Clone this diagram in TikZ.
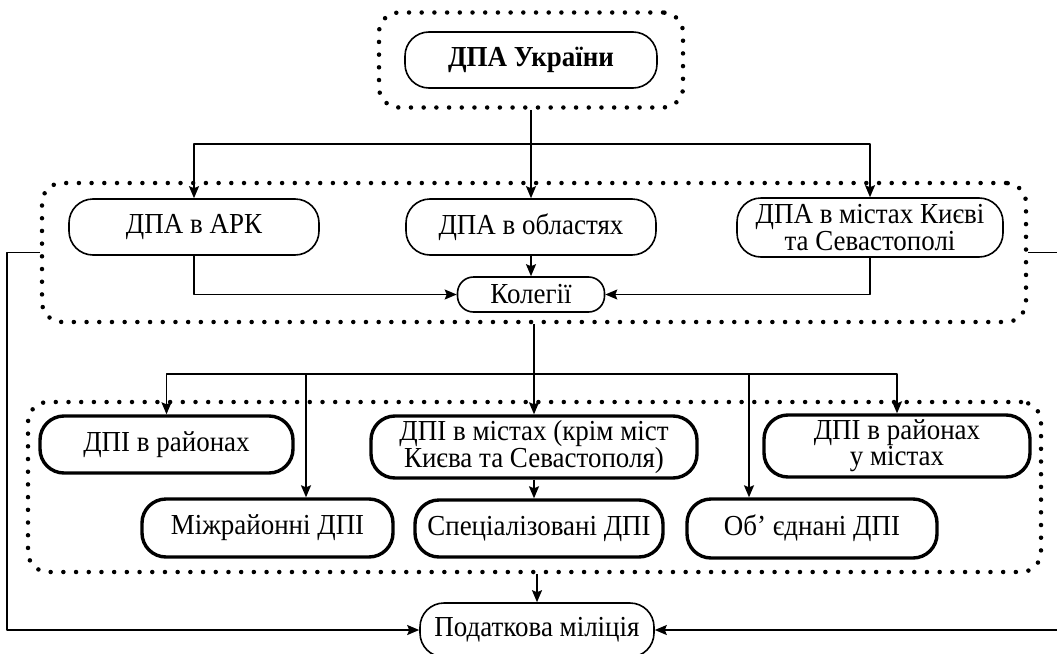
\documentclass[tikz,border=0pt]{standalone}
\usepackage{fontspec}
\setmainfont[FakeStretch=0.93]{Liberation Serif}
\usetikzlibrary{arrows.meta}
\begin{document}
\begin{tikzpicture}[x=1pt,y=-1pt,line join=round,>={Stealth[length=12pt,width=10pt,inset=2pt]},line width=1.6pt]
			\tikzset{every node/.style={font=\fontsize{29}{22}\selectfont},
				box/.style={draw,line width=1.6pt,rounded corners=24pt,inner sep=0pt,align=center,minimum width=#1,minimum height=56pt},
				dpibox/.style={box=#1,line width=3.4pt},
				group/.style={draw,line width=4.5pt,line cap=round,dash pattern=on 0pt off 12.7pt,rounded corners=20pt,inner sep=0pt}}
			\useasboundingbox (0,0) rectangle (1057,653);
			% groups
			\node[group,minimum width=304pt,minimum height=95pt] (topgrp) at (531,60) {};
			\node[group,minimum width=984pt,minimum height=139pt] (midgrp) at (534,252.5) {};
			\node[group,minimum width=1013pt,minimum height=170pt] (lowgrp) at (534.5,487) {};
			% ДПА
			\node[box=252pt] (dpa) at (531,60) {\textbf{ДПА України}};
			\node[box=250pt] (ark) at (194,227) {ДПА в АРК};
			\node[box=250pt] (oblast) at (531,227) {ДПА в областях};
			\node[box=266pt,minimum height=59pt] (kyiv) at (870,227.5) {ДПА в містах Києві\\та Севастополі};
			\node[box=147pt,minimum height=35pt,rounded corners=16pt] (kolegii) at (531,294.5) {Колегії};
			% ДПІ
			\node[dpibox=253pt,minimum height=57pt] (rayon) at (166.5,444.5) {ДПІ в районах};
			\node[dpibox=326pt,minimum height=62pt] (city) at (534,447) {ДПІ в містах (крім міст\\Києва та Севастополя)};
			\node[dpibox=266pt,minimum height=62pt] (rmista) at (897,446) {ДПІ в районах\\у містах};
			\node[dpibox=251pt,minimum height=58pt] (mizh) at (267.5,528) {Міжрайонні ДПІ};
			\node[dpibox=248pt,minimum height=57pt] (spec) at (539,528.5) {Спеціалізовані ДПІ};
			\node[dpibox=250pt,minimum height=59pt] (obyed) at (812,528.5) {Об’ єднані ДПІ};
			\node[box=234pt,minimum height=54pt] (podat) at (537,630) {Податкова міліція};
			% connectors
			\coordinate (split1) at (topgrp.south |- 0,144);
			\coordinate (split2) at (midgrp.south |- 0,374);
			\coordinate (mizhin) at ([xshift=38.5pt]mizh.north);
			\coordinate (obyedin) at ([xshift=-63pt]obyed.north);
			\draw[->] (topgrp.south) -- (oblast.north);
			\draw[->] (split1) -| (ark.north);
			\draw[->] (split1) -| (kyiv.north);
			\draw[->] (ark.south) |- (kolegii.west);
			\draw[->] (oblast.south) -- (kolegii.north);
			\draw[->] (kyiv.south) |- (kolegii.east);
			\draw[->] (midgrp.south) -- (city.north);
			\foreach \n in {rayon,mizhin,obyedin,rmista}
			\draw[->] (split2) -| (\n);
			\draw[->] (city.south) -- (city.south |- spec.north);
			\draw[->] (lowgrp.south -| podat.north) -- (podat.north);
			\draw[->] (midgrp.west) -- ++(-33,0) |- (podat.west);
			\draw[->] (midgrp.east) -- ++(40,0) |- (podat.east);
\end{tikzpicture}
\end{document}
